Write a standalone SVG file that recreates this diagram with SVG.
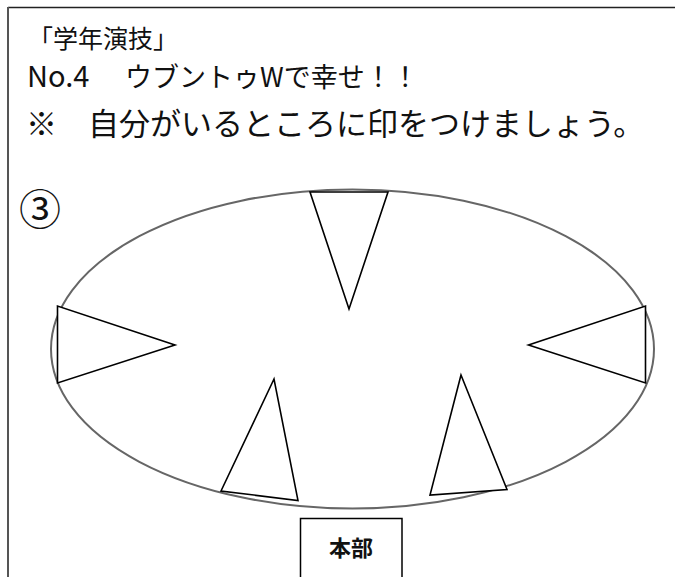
<svg xmlns="http://www.w3.org/2000/svg" width="675" height="577" viewBox="0 0 675 577">
<style>
.t{font-family:"Noto Sans CJK JP","Liberation Sans",sans-serif;fill:#111}
.tri{fill:#fff;stroke:#000;stroke-width:1.6;stroke-linejoin:miter}
</style>
<rect width="675" height="577" fill="#fff"/>
<g id="frame">
<line x1="8" y1="7.5" x2="675" y2="7.5" stroke="#222" stroke-width="1.5"/>
<line x1="8" y1="7" x2="8" y2="577" stroke="#555" stroke-width="2"/>
</g>
<g id="titles">
<text class="t" x="28" y="48" font-size="25">「学年演技」</text>
<text class="t" x="27" y="87" font-size="29">No.4<tspan x="125" font-size="27">ウブントゥWで幸せ！！</tspan></text>
<text class="t" x="26" y="135" font-size="31">※　自分がいるところに印をつけましょう。</text>
<text class="t" x="19" y="225" font-size="42">③</text>
</g>
<g id="field">
<ellipse cx="352.5" cy="349" rx="301.5" ry="159.5" fill="none" stroke="#666" stroke-width="2"/>
</g>
<g id="tri-top"><polygon class="tri" points="310,192 388,192 349,309"/></g>
<g id="tri-left"><polygon class="tri" points="57.5,306 57.5,383 175,345"/></g>
<g id="tri-right"><polygon class="tri" points="645.5,306 645.5,383 528.5,345"/></g>
<g id="tri-bottom-left"><polygon class="tri" points="274,379 221,491 298,500.5"/></g>
<g id="tri-bottom-right"><polygon class="tri" points="461,375 430,495 507,489.5"/></g>
<g id="honbu">
<rect x="300.5" y="518.5" width="101.5" height="70" fill="#fff" stroke="#000" stroke-width="1.5"/>
<text class="t" x="351" y="556" font-size="22" font-weight="bold" text-anchor="middle">本部</text>
</g>
<g id="connectors"/>
</svg>
